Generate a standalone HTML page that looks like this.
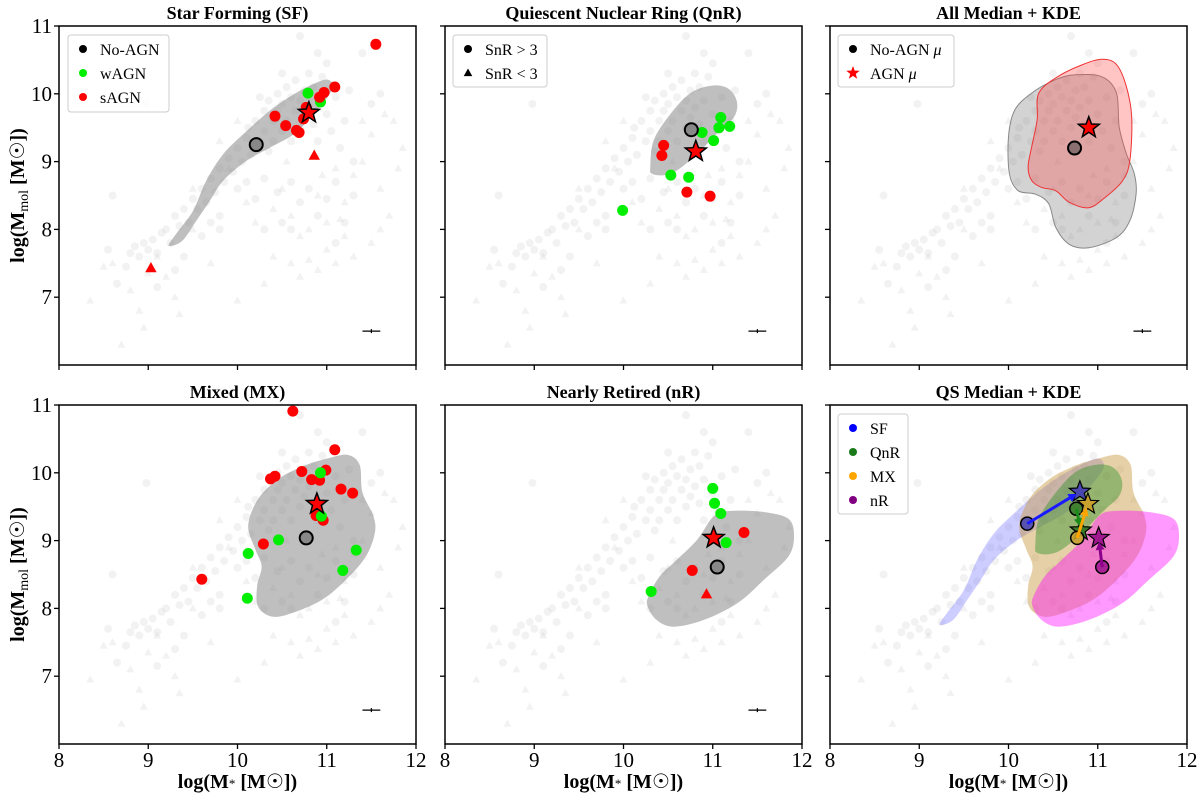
<!DOCTYPE html>
<html><head><meta charset="utf-8">
<style>
html,body{margin:0;padding:0;background:#fff;}
svg{display:block;font-family:"Liberation Serif",serif;}
</style></head>
<body>
<svg id="chart" width="1200" height="800" viewBox="0 0 1200 800"></svg>
<script>
// ---------- data ----------
const bgCircles=[[8.65,7.2],[8.75,7.45],[8.8,7.65],[8.85,7.75],[8.9,7.6],[8.95,7.8],[9.0,7.7],[9.05,7.85],[9.1,7.65],[9.15,7.95],[9.2,8.0],[9.25,7.8],[9.3,8.2],[9.35,8.05],[9.4,8.3],[9.45,8.1],[9.5,8.45],[9.55,8.3],[9.6,8.6],[9.65,8.4],[9.7,8.75],[9.75,8.55],[9.8,8.9],[9.85,8.7],[9.9,9.05],[9.95,8.85],[10.0,9.2],[10.05,9.0],[10.1,9.35],[10.12,9.5],[10.15,9.1],[10.2,9.6],[10.25,9.3],[10.3,9.75],[10.3,9.45],[10.35,9.9],[10.35,9.15],[10.4,9.6],[10.4,9.3],[10.45,10.0],[10.45,9.75],[10.5,9.45],[10.5,9.85],[10.55,10.1],[10.55,9.6],[10.6,9.95],[10.6,9.3],[10.65,9.75],[10.65,10.2],[10.7,9.5],[10.7,9.9],[10.75,10.05],[10.75,9.65],[10.8,10.3],[10.8,9.8],[10.85,9.55],[10.85,10.1],[10.9,9.9],[10.9,9.3],[10.95,10.25],[11.0,9.7],[11.0,10.45],[11.05,9.45],[11.1,9.95],[11.15,9.2],[11.2,9.6],[11.25,10.05],[11.3,9.0],[11.4,10.6],[11.5,9.85],[10.0,8.6],[10.1,8.7],[10.2,8.45],[10.3,8.75],[10.45,8.55],[10.6,8.7],[10.7,8.4],[10.8,8.6],[10.9,8.2],[11.0,8.45],[11.1,8.7],[11.2,8.1],[10.5,8.1],[10.3,8.0],[9.8,8.2],[9.6,7.9],[9.3,7.4],[9.1,7.15],[8.55,7.7],[8.6,8.5],[9.4,7.6],[10.7,10.85],[10.25,9.95],[10.5,10.3],[10.9,10.6],[8.98,9.85],[9.8,8.0],[9.7,8.1],[11.6,10.0],[11.3,8.5],[10.6,8.0],[11.1,7.8]];
const bgTriangles=[[8.5,7.45],[8.6,7.5],[8.9,6.8],[8.95,6.55],[8.8,7.1],[9.2,7.3],[9.3,7.0],[9.1,7.6],[9.5,8.0],[9.7,7.5],[10.0,6.95],[10.3,7.2],[10.4,7.6],[10.6,7.5],[10.7,7.3],[10.8,7.55],[10.9,7.4],[11.0,7.7],[11.1,7.5],[11.2,7.9],[11.3,7.6],[11.5,7.8],[11.6,8.0],[11.7,8.2],[11.6,8.6],[11.8,8.9],[11.85,9.2],[11.75,9.6],[11.5,9.4],[11.4,9.0],[11.3,8.8],[11.2,8.4],[11.1,8.9],[11.0,8.1],[10.9,8.5],[10.8,8.0],[10.7,7.9],[10.6,8.2],[10.5,8.6],[10.4,8.3],[10.2,8.1],[10.1,8.4],[9.9,8.9],[9.5,8.6],[9.8,9.3],[10.0,9.6],[11.4,9.6],[11.65,9.7],[9.35,6.75],[8.7,6.3],[8.35,6.95],[9.0,7.35],[10.55,9.0],[10.95,8.8],[11.15,8.15]];

const kdeSF=[[9.23,7.76],[9.31,7.93],[9.50,8.27],[9.65,8.72],[9.84,9.11],[10.07,9.41],[10.37,9.76],[10.64,10.0],[10.86,10.15],[11.01,10.21],[11.07,10.10],[10.98,9.90],[10.82,9.66],[10.64,9.41],[10.37,9.21],[10.10,9.01],[9.84,8.72],[9.69,8.42],[9.54,8.13],[9.38,7.83]];
const kdeQnR=[[10.30,8.92],[10.34,9.32],[10.53,9.71],[10.75,10.01],[10.98,10.12],[11.17,10.08],[11.27,9.89],[11.24,9.66],[11.05,9.42],[10.83,9.12],[10.60,8.87],[10.45,8.80],[10.32,8.82]];
const kdeMX=[[10.12,9.22],[10.23,9.61],[10.46,9.91],[10.76,10.11],[11.06,10.23],[11.25,10.26],[11.37,10.11],[11.40,9.71],[11.52,9.37],[11.54,9.12],[11.44,8.77],[11.22,8.43],[10.95,8.13],[10.61,7.93],[10.38,7.88],[10.23,8.03],[10.22,8.33],[10.27,8.62],[10.20,8.87]];
const kdeNR=[[10.28,8.18],[10.41,8.48],[10.60,8.72],[10.83,9.02],[11.02,9.37],[11.24,9.44],[11.58,9.42],[11.85,9.32],[11.91,9.07],[11.85,8.77],[11.58,8.43],[11.28,8.08],[10.90,7.83],[10.56,7.73],[10.37,7.83],[10.27,8.03]];
const kdeAllNoAGN=[[10.0,9.37],[10.07,9.76],[10.26,10.01],[10.53,10.21],[10.75,10.28],[11.05,10.25],[11.21,10.01],[11.24,9.51],[11.32,9.12],[11.41,8.82],[11.43,8.52],[11.36,8.13],[11.21,7.88],[10.90,7.73],[10.68,7.78],[10.53,8.03],[10.45,8.38],[10.30,8.52],[10.11,8.57],[10.01,8.82]];
const kdeAllAGN=[[10.22,8.92],[10.26,9.22],[10.32,9.61],[10.34,10.01],[10.56,10.26],[10.83,10.43],[11.05,10.51],[11.21,10.43],[11.32,10.11],[11.38,9.66],[11.36,9.02],[11.28,8.72],[11.09,8.48],[10.90,8.32],[10.68,8.40],[10.53,8.57],[10.37,8.62],[10.26,8.72]];

const sfGreen=[[10.79,10.01],[10.93,9.88]];
const sfRed=[[10.42,9.67],[10.54,9.53],[10.66,9.46],[10.69,9.43],[10.74,9.63],[10.77,9.80],[10.92,9.95],[10.97,10.02],[11.09,10.10],[11.55,10.73]];
const sfRedTri=[[9.03,7.43],[10.86,9.09]];
const qnrGreen=[[11.09,9.65],[11.07,9.50],[11.19,9.52],[10.88,9.43],[11.01,9.31],[10.53,8.80],[10.73,8.77],[9.99,8.28]];
const qnrRed=[[10.45,9.24],[10.43,9.09],[10.71,8.55],[10.97,8.49]];
const mxRed=[[10.62,10.91],[11.09,10.34],[10.72,10.02],[10.99,10.04],[10.37,9.91],[10.42,9.95],[10.83,9.90],[10.92,9.89],[11.16,9.76],[11.29,9.70],[10.88,9.37],[10.96,9.30],[10.29,8.95],[9.6,8.43]];
const mxGreen=[[10.93,10.0],[10.94,9.36],[10.46,9.01],[10.12,8.81],[11.33,8.86],[11.18,8.56],[10.11,8.15]];
const nrGreen=[[11.0,9.77],[11.02,9.55],[11.09,9.40],[11.15,8.97],[10.31,8.25]];
const nrRed=[[11.35,9.12],[10.77,8.56]];
const nrRedTri=[[10.93,8.21]];

const medNoAGN={SF:[10.21,9.25],QnR:[10.76,9.47],MX:[10.77,9.04],nR:[11.05,8.61],All:[10.74,9.20]};
const medAGN={SF:[10.80,9.72],QnR:[10.81,9.15],MX:[10.89,9.54],nR:[11.01,9.04],All:[10.90,9.50]};
const errBar=[11.5,6.5,0.1];
const xTicks=[8,9,10,11,12];
const yTicks=[7,8,9,10,11];

// ---------- layout ----------
const NS="http://www.w3.org/2000/svg";
const svg=document.getElementById('chart');
const PW=357,PH=339,XMIN=8,XMAX=12,YMIN=6,YMAX=11;
const panels=[
 {key:'SF',title:'Star Forming (SF)',l:59,t:26,row:0,col:0},
 {key:'QnR',title:'Quiescent Nuclear Ring (QnR)',l:445,t:26,row:0,col:1},
 {key:'All',title:'All Median + KDE',l:830,t:26,row:0,col:2},
 {key:'MX',title:'Mixed (MX)',l:59,t:405,row:1,col:0},
 {key:'nR',title:'Nearly Retired (nR)',l:445,t:405,row:1,col:1},
 {key:'QS',title:'QS Median + KDE',l:830,t:405,row:1,col:2}
];
function mk(tag,attrs,parent){const e=document.createElementNS(NS,tag);for(const k in attrs)e.setAttribute(k,attrs[k]);(parent||svg).appendChild(e);return e;}
function sx(p,v){return p.l+(v-XMIN)/(XMAX-XMIN)*PW;}
function sy(p,v){return p.t+PH-(v-YMIN)/(YMAX-YMIN)*PH;}
function smoothPath(p,pts){
 const P=pts.map(d=>[sx(p,d[0]),sy(p,d[1])]);const n=P.length;let s='M'+P[0][0].toFixed(1)+','+P[0][1].toFixed(1);
 for(let i=0;i<n;i++){const p0=P[(i-1+n)%n],p1=P[i],p2=P[(i+1)%n],p3=P[(i+2)%n];
  const c1=[p1[0]+(p2[0]-p0[0])/6,p1[1]+(p2[1]-p0[1])/6],c2=[p2[0]-(p3[0]-p1[0])/6,p2[1]-(p3[1]-p1[1])/6];
  s+=' C'+c1[0].toFixed(1)+','+c1[1].toFixed(1)+' '+c2[0].toFixed(1)+','+c2[1].toFixed(1)+' '+p2[0].toFixed(1)+','+p2[1].toFixed(1);}
 return s+'Z';}
function starPath(cx,cy,R){const r=R*0.42;let s='';for(let i=0;i<10;i++){const a=-Math.PI/2+i*Math.PI/5,rr=i%2?r:R;s+=(i?'L':'M')+(cx+rr*Math.cos(a)).toFixed(1)+','+(cy+rr*Math.sin(a)).toFixed(1);}return s+'Z';}
function triPath(cx,cy,r){return 'M'+cx+','+(cy-r)+'L'+(cx+r*0.95)+','+(cy+r*0.7)+'L'+(cx-r*0.95)+','+(cy+r*0.7)+'Z';}

panels.forEach(p=>{
 const g=mk('g',{});
 
 
 const clip=mk('clipPath',{id:'clip'+p.key},g);mk('rect',{x:p.l,y:p.t,width:PW,height:PH},clip);
 const plot=mk('g',{'clip-path':'url(#clip'+p.key+')'},g);
 bgCircles.forEach(d=>{const c=mk('circle',{cx:sx(p,d[0]),cy:sy(p,d[1]),r:4,fill:'#cfcfcf','fill-opacity':0.28},plot);
  });
 bgTriangles.forEach(d=>{const c=mk('path',{d:triPath(sx(p,d[0]),sy(p,d[1]),4.2),fill:'#cfcfcf','fill-opacity':0.28},plot);
  });
 const kdes={SF:[[kdeSF,'rgba(128,128,128,0.5)','none']],QnR:[[kdeQnR,'rgba(128,128,128,0.5)','none']],MX:[[kdeMX,'rgba(128,128,128,0.5)','none']],nR:[[kdeNR,'rgba(128,128,128,0.5)','none']],
  All:[[kdeAllNoAGN,'rgba(128,128,128,0.35)','#888'],[kdeAllAGN,'rgba(255,60,60,0.3)','#e33']],
  QS:[[kdeSF,'rgba(90,90,255,0.3)','none'],[kdeMX,'rgba(200,150,60,0.45)','none'],[kdeQnR,'rgba(30,140,30,0.4)','none'],[kdeNR,'rgba(255,0,255,0.4)','none']]}[p.key];
 kdes.forEach(k=>{const e=mk('path',{d:smoothPath(p,k[0]),fill:k[1],stroke:k[2],'stroke-width':1},plot);
  });
 function dots(arr,col,tri){arr.forEach(d=>{const x=sx(p,d[0]),y=sy(p,d[1]);
  const e=tri?mk('path',{d:triPath(x,y,6),fill:col},plot):mk('circle',{cx:x,cy:y,r:5.5,fill:col},plot);
  });}
 function medians(key,cfill,sfill){const a=medNoAGN[key],b=medAGN[key];
  const c=mk('circle',{cx:sx(p,a[0]),cy:sy(p,a[1]),r:6.5,fill:cfill,stroke:'#000','stroke-width':2},plot);
  
  const s=mk('path',{d:starPath(sx(p,b[0]),sy(p,b[1]),11),fill:sfill,stroke:'#000','stroke-width':1.5},plot);
  }
 if(p.key==='SF'){dots(sfGreen,'#00ee00');dots(sfRed,'#ff0000');dots(sfRedTri,'#ff0000',true);medians('SF','#888','#ff0000');}
 if(p.key==='QnR'){dots(qnrGreen,'#00ee00');dots(qnrRed,'#ff0000');medians('QnR','#888','#ff0000');}
 if(p.key==='MX'){dots(mxRed,'#ff0000');dots(mxGreen,'#00ee00');medians('MX','#888','#ff0000');}
 if(p.key==='nR'){dots(nrGreen,'#00ee00');dots(nrRed,'#ff0000');dots(nrRedTri,'#ff0000',true);medians('nR','#888','#ff0000');}
 if(p.key==='All'){medians('All','#8a7070','#ff0000');}
 if(p.key==='QS'){
  [['SF','#1a1aff','#4a48b0'],['QnR','#1a8a1a','#3a7a2a'],['MX','#ffa500','#c8a030'],['nR','#8b008b','#a01890']].forEach(c=>{
   const a=medNoAGN[c[0]],b=medAGN[c[0]];
   const x1=sx(p,a[0]),y1=sy(p,a[1]),x2=sx(p,b[0]),y2=sy(p,b[1]);
   const cc=mk('circle',{cx:x1,cy:y1,r:6.5,fill:c[2],stroke:'#000','stroke-width':1.5,'fill-opacity':0.9},plot);
   
   const st=mk('path',{d:starPath(x2,y2,11),fill:c[2],stroke:'#000','stroke-width':1.2},plot);
   
   const ang=Math.atan2(y2-y1,x2-x1),L=Math.hypot(x2-x1,y2-y1)-4;
   const ex=x1+L*Math.cos(ang),ey=y1+L*Math.sin(ang);
   const ln=mk('line',{x1:x1,y1:y1,x2:ex-6*Math.cos(ang),y2:ey-6*Math.sin(ang),stroke:c[1],'stroke-width':3},plot);
   
   const h=8,w=4.5;
   mk('path',{d:'M'+ex+','+ey+'L'+(ex-h*Math.cos(ang)+w*Math.sin(ang))+','+(ey-h*Math.sin(ang)-w*Math.cos(ang))+'L'+(ex-h*Math.cos(ang)-w*Math.sin(ang))+','+(ey-h*Math.sin(ang)+w*Math.cos(ang))+'Z',fill:c[1]},plot);
  });
 }
 if(p.key!=='QS'){const ex=sx(p,errBar[0]),ey=sy(p,errBar[1]),dx=errBar[2]/(XMAX-XMIN)*PW;
  const eb=mk('g',{stroke:'#000','stroke-width':1.2},plot);
  mk('line',{x1:ex-dx,y1:ey,x2:ex+dx,y2:ey},eb);mk('line',{x1:ex,y1:ey-2,x2:ex,y2:ey+2},eb);}
 const fr=mk('rect',{x:p.l,y:p.t,width:PW,height:PH,fill:'none',stroke:'#000','stroke-width':1.5},g);
 
 xTicks.forEach(v=>{const x=sx(p,v);mk('line',{x1:x,y1:p.t+PH,x2:x,y2:p.t+PH+5,stroke:'#000','stroke-width':1.3},g);
  if(p.row===1){const t=mk('text',{x:x,y:p.t+PH+23,'text-anchor':'middle','font-size':21,fill:'#000'},g);t.textContent=v;
   }});
 yTicks.forEach(v=>{const y=sy(p,v);mk('line',{x1:p.l-5,y1:y,x2:p.l,y2:y,stroke:'#000','stroke-width':1.3},g);
  if(p.col===0){const t=mk('text',{x:p.l-7,y:y+7,'text-anchor':'end','font-size':21,fill:'#000'},g);t.textContent=v;
   }});
 const tt=mk('text',{x:p.l+PW/2,y:p.t-7,'text-anchor':'middle','font-size':18,'font-weight':'bold',fill:'#000'},g);tt.textContent=p.title;
 
 if(p.row===1){const xl=mk('text',{x:p.l+PW/2,y:p.t+PH+44,'text-anchor':'middle','font-size':20,'font-weight':'bold',fill:'#000'},g);
  xl.innerHTML='log(M<tspan font-size="13" font-weight="normal">*</tspan> [M<tspan font-weight="normal">☉</tspan>])';
  }
 if(p.col===0){const cy=p.t+PH/2;const yl=mk('text',{x:0,y:0,transform:'translate(24,'+cy+') rotate(-90)','text-anchor':'middle','font-size':20,'font-weight':'bold',fill:'#000'},g);
  yl.innerHTML='log(M<tspan font-size="14" font-weight="normal" dy="4">mol</tspan><tspan dy="-4"> [M</tspan><tspan font-weight="normal">☉</tspan>])';
  }
 function legend(x,y,w,h,entries){const lg=mk('g',{},g);
  mk('rect',{x:x,y:y,width:w,height:h,rx:3,fill:'#fff','fill-opacity':0.85,stroke:'#ccc'},lg);
  entries.forEach((e,i)=>{const ey=y+14+i*24;const en=mk('g',{},lg);
   if(e[1]==='tri')mk('path',{d:triPath(x+15,ey,4.5),fill:e[0]},en);
   else if(e[1]==='star')mk('path',{d:starPath(x+15,ey,7),fill:e[0]},en);
   else mk('circle',{cx:x+15,cy:ey,r:4,fill:e[0]},en);
   const t=mk('text',{x:x+32,y:ey+6,'font-size':16,fill:'#000'},en);t.innerHTML=e[2];});}
 if(p.key==='SF')legend(68,35,101,77,[['#000','c','No-AGN'],['#00ee00','c','wAGN'],['#ff0000','c','sAGN']]);
 if(p.key==='QnR')legend(453,35,94,52,[['#000','c','SnR &gt; 3'],['#000','tri','SnR &lt; 3']]);
 if(p.key==='All')legend(838,35,116,52,[['#000','c','No-AGN <tspan font-style="italic">μ</tspan>'],['#ff0000','star','AGN <tspan font-style="italic">μ</tspan>']]);
 if(p.key==='QS')legend(838,414,70,100,[['#0000ff','c','SF'],['#1a7a1a','c','QnR'],['#ffa500','c','MX'],['#800080','c','nR']]);
});
</script>
</body></html>
